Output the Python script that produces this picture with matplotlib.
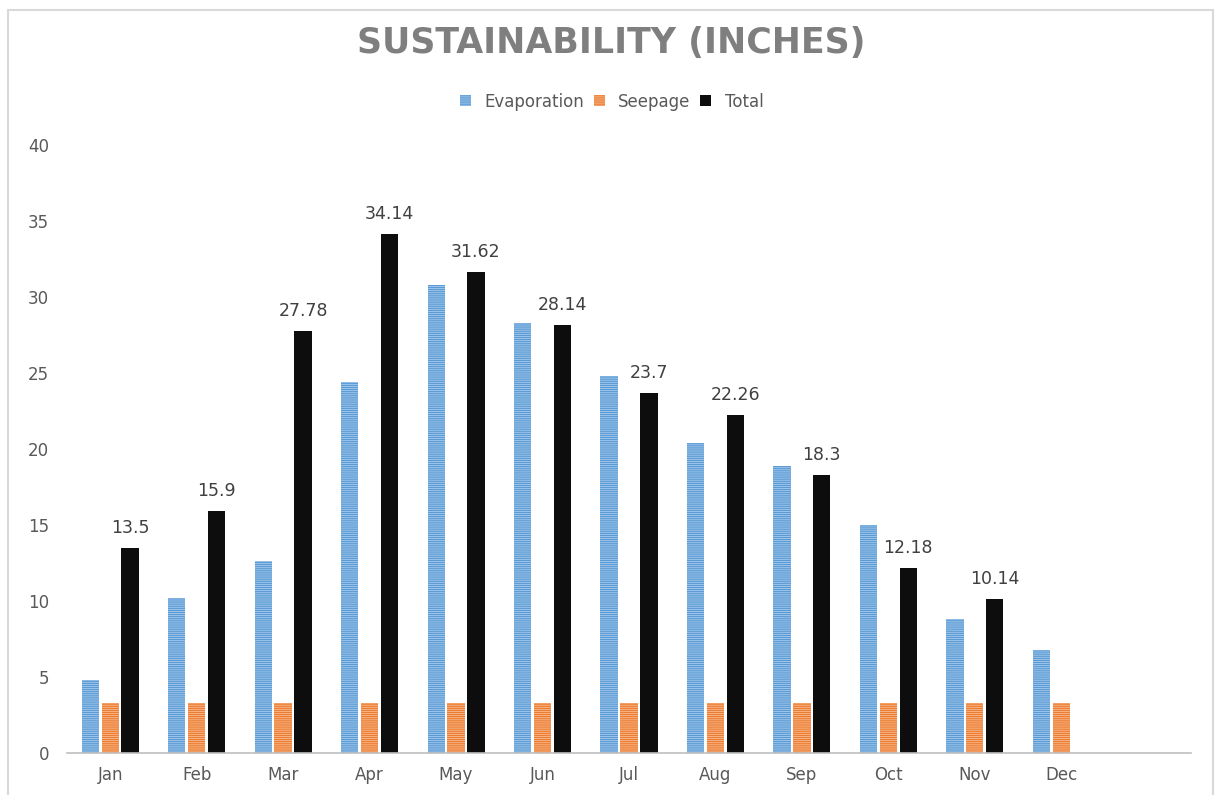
import numpy as np
import matplotlib.pyplot as plt
from matplotlib.patches import Rectangle

months = ['Jan', 'Feb', 'Mar', 'Apr', 'May', 'Jun', 'Jul', 'Aug', 'Sep', 'Oct', 'Nov', 'Dec']
evaporation = [4.8, 10.2, 12.6, 24.4, 30.8, 28.3, 24.8, 20.4, 18.9, 15.0, 8.8, 6.8]
seepage = [3.3, 3.3, 3.3, 3.3, 3.3, 3.3, 3.3, 3.3, 3.3, 3.3, 3.3, 3.3]
total = [13.5, 15.9, 27.78, 34.14, 31.62, 28.14, 23.7, 22.26, 18.3, 12.18, 10.14, np.nan]
total_labels = ['13.5', '15.9', '27.78', '34.14', '31.62', '28.14', '23.7', '22.26', '18.3', '12.18', '10.14', '']

plt.rcParams['font.family'] = ['DejaVu Sans']
plt.rcParams['hatch.linewidth'] = 0.6

fig = plt.figure(figsize=(12.16, 7.95), dpi=100)
ax = fig.add_axes([0.0551, 0.0528, 0.9243, 0.7648])

x = np.arange(len(months))
w = 0.2
step = 0.23

ax.bar(x - step, evaporation, w, color='#5B9BD5', edgecolor='#A9CBEC', linewidth=0,
       hatch='--------', label='Evaporation')
ax.bar(x, seepage, w, color='#ED7D31', edgecolor='#F7BC94', linewidth=0,
       hatch='--------', label='Seepage')
bars = ax.bar(x + step, total, w, color='#0D0D0D', label='Total')

for b, txt in zip(bars, total_labels):
    if txt:
        ax.annotate(txt, (b.get_x() + b.get_width() / 2, b.get_height()),
                    xytext=(0, 8), textcoords='offset points', ha='center', va='bottom',
                    fontsize=12.5, color='#404040')

# one empty slot after Dec, like the original sheet range
ax.set_xlim(-0.5, len(months) + 0.5)
ax.set_ylim(0, 40)
ax.set_xticks(x)
ax.set_xticklabels(months)
ax.set_yticks(np.arange(0, 41, 5))
ax.tick_params(axis='both', length=0, colors='#595959', labelsize=12)
ax.tick_params(axis='y', pad=13)
ax.tick_params(axis='x', pad=9)

for s in ['top', 'right', 'left']:
    ax.spines[s].set_visible(False)
ax.spines['bottom'].set_color('#BFBFBF')
ax.spines['bottom'].set_linewidth(1.2)

fig.text(0.503, 0.946, 'SUSTAINABILITY (INCHES)', ha='center', va='center',
         fontsize=25, fontweight='bold', color='#7F7F7F')
fig.legend(loc='center', bbox_to_anchor=(0.503, 0.872), ncol=3, frameon=False,
           fontsize=12, labelcolor='#595959', handlelength=0.65, handleheight=0.65,
           handletextpad=0.8, columnspacing=0.6)

# outer chart frame
fig.patches.append(Rectangle((8 / 1216, -0.05), 1205 / 1216, 1.05 - 10 / 795,
                             transform=fig.transFigure, fill=False,
                             edgecolor='#D9D9D9', linewidth=1.5))

fig.savefig('out.png', dpi=100)
